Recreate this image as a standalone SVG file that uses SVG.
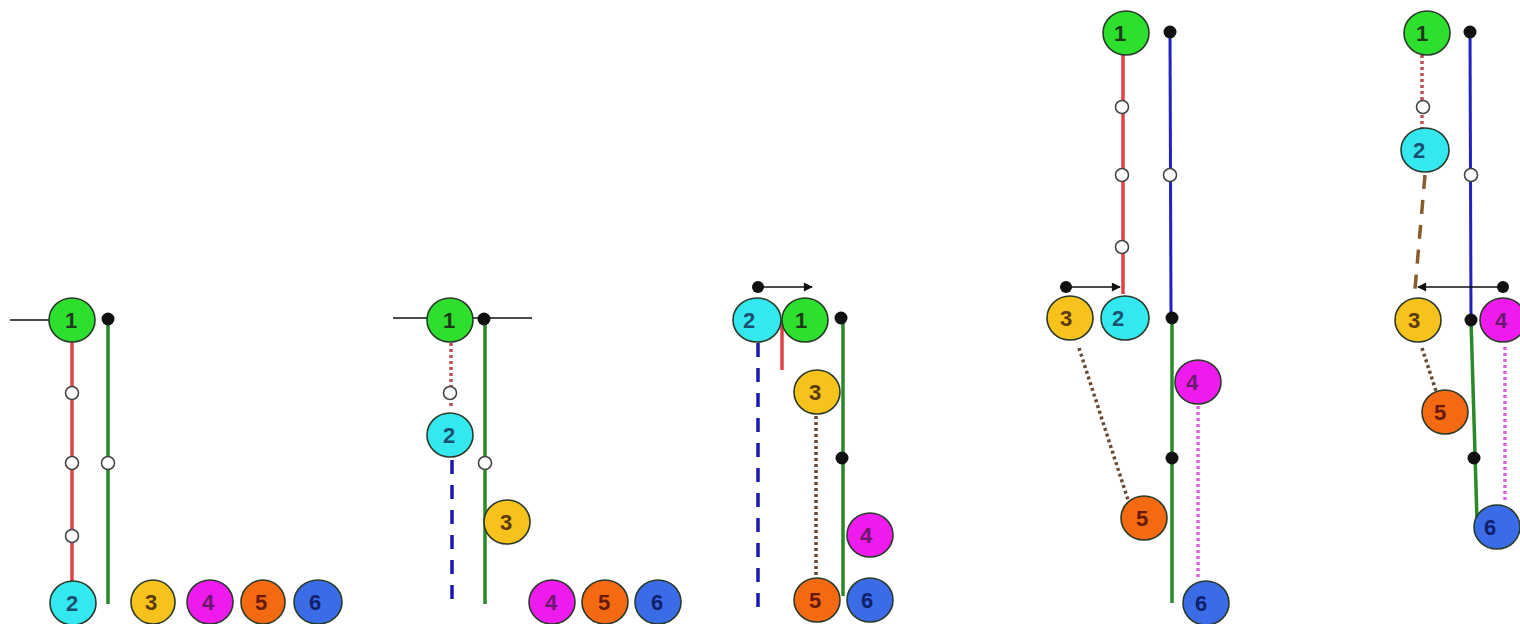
<svg xmlns="http://www.w3.org/2000/svg" width="1520" height="624" viewBox="0 0 1520 624">
<style>
.n ellipse{stroke:#2a3a2a;stroke-width:1.6}
.n text{font-family:"Liberation Sans",Arial,sans-serif;font-size:22px;font-weight:bold;text-anchor:middle;dominant-baseline:central}
.c1{fill:#2ee02e}.c2{fill:#33e8ee}.c3{fill:#f7c21c}.c4{fill:#ee1aee}.c5{fill:#f46a12}.c6{fill:#3a6ce8}
.t1{fill:#1d3a1d}.t2{fill:#1c5070}.t3{fill:#5a3a10}.t4{fill:#6a1a6a}.t5{fill:#6a1a0a}.t6{fill:#12206a}
.blk{stroke:#111;stroke-width:1.6;fill:none}
.red{stroke:#dd4444;stroke-width:3.5;fill:none}
.grn{stroke:#2a8a2a;stroke-width:3.5;fill:none}
.blu{stroke:#1f22c0;stroke-width:3;fill:none}
.bdash{stroke:#1a1ab0;stroke-width:3.5;fill:none;stroke-dasharray:14 11}
.rdot{stroke:#c05050;stroke-width:3.5;fill:none;stroke-dasharray:3 3}
.bdot{stroke:#6a4a30;stroke-width:3.5;fill:none;stroke-dasharray:3 3}
.pdot{stroke:#e060e0;stroke-width:3.5;fill:none;stroke-dasharray:3 3}
.brdash{stroke:#8a5a2a;stroke-width:3.5;fill:none;stroke-dasharray:14 11}
.open{fill:#fff;stroke:#444;stroke-width:1.6}
.dot{fill:#111}
</style>
<defs>
<marker id="ah" viewBox="0 0 10 10" refX="9" refY="5" markerWidth="10" markerHeight="9" markerUnits="userSpaceOnUse" orient="auto">
<path d="M0,0 L10,5 L0,10 z" fill="#111"/>
</marker>
</defs>

<g id="connectors">
<!-- panel 1 -->
<line class="blk" x1="10" y1="320" x2="49" y2="320"/>
<line class="red" x1="72" y1="342" x2="72" y2="582"/>
<line class="grn" x1="108" y1="319" x2="108" y2="604"/>
<circle class="dot" cx="108" cy="319" r="6.5"/>
<circle class="open" cx="72" cy="393" r="6.5"/>
<circle class="open" cx="72" cy="463" r="6.5"/>
<circle class="open" cx="72" cy="536" r="6.5"/>
<circle class="open" cx="108" cy="463" r="6.5"/>
<!-- panel 2 -->
<line class="blk" x1="393" y1="318" x2="427" y2="318"/>
<line class="blk" x1="473" y1="318" x2="532" y2="318"/>
<line class="grn" x1="485" y1="320" x2="485" y2="604"/>
<circle class="dot" cx="484" cy="319" r="6.5"/>
<line class="rdot" x1="451" y1="343" x2="451" y2="406"/>
<circle class="open" cx="450" cy="393" r="6.5"/>
<line class="bdash" x1="452" y1="460" x2="452" y2="606"/>
<circle class="open" cx="485" cy="463" r="6.5"/>
<!-- panel 3 -->
<line class="blk" x1="758" y1="287" x2="812" y2="287" marker-end="url(#ah)"/>
<circle class="dot" cx="758" cy="287" r="6"/>
<line class="red" x1="782" y1="322" x2="782" y2="370"/>
<line class="bdash" x1="758" y1="343" x2="758" y2="612"/>
<line class="grn" x1="843" y1="318" x2="843" y2="596"/>
<circle class="dot" cx="841" cy="318" r="6.5"/>
<circle class="dot" cx="842" cy="458" r="6.5"/>
<line class="bdot" x1="816" y1="416" x2="816" y2="576"/>
<!-- panel 4 -->
<line class="red" x1="1123" y1="55" x2="1123" y2="294"/>
<circle class="open" cx="1122" cy="107" r="6.5"/>
<circle class="open" cx="1122" cy="175" r="6.5"/>
<circle class="open" cx="1122" cy="247" r="6.5"/>
<line class="blu" x1="1170" y1="32" x2="1171" y2="316"/>
<circle class="dot" cx="1170" cy="32" r="6.5"/>
<circle class="open" cx="1170" cy="175" r="6.5"/>
<line class="blk" x1="1066" y1="287" x2="1120" y2="287" marker-end="url(#ah)"/>
<circle class="dot" cx="1066" cy="287" r="6"/>
<line class="grn" x1="1172" y1="318" x2="1172" y2="603"/>
<circle class="dot" cx="1172" cy="318" r="6.5"/>
<circle class="dot" cx="1172" cy="458" r="6.5"/>
<line class="bdot" x1="1079" y1="348" x2="1129" y2="503"/>
<line class="pdot" x1="1198" y1="406" x2="1198" y2="578"/>
<!-- panel 5 -->
<line class="rdot" x1="1422" y1="55" x2="1422" y2="128"/>
<circle class="open" cx="1423" cy="107" r="6.5"/>
<line class="brdash" x1="1425" y1="175" x2="1415" y2="289"/>
<line class="blu" x1="1470" y1="32" x2="1471" y2="318"/>
<circle class="dot" cx="1470" cy="32" r="6.5"/>
<circle class="open" cx="1471" cy="175" r="6.5"/>
<line class="blk" x1="1503" y1="287" x2="1418" y2="287" marker-end="url(#ah)"/>
<circle class="dot" cx="1503" cy="287" r="6"/>
<line class="grn" x1="1471" y1="320" x2="1477" y2="520"/>
<circle class="dot" cx="1471" cy="320" r="6.5"/>
<circle class="dot" cx="1474" cy="458" r="6.5"/>
<line class="bdot" x1="1422" y1="348" x2="1436" y2="391"/>
<line class="pdot" x1="1505" y1="347" x2="1505" y2="500"/>
</g>

<!-- panel 1 nodes -->
<g id="p1-n1" class="n"><ellipse class="c1" cx="72" cy="320" rx="23" ry="22"/><text class="t1" x="71" y="320">1</text></g>
<g id="p1-n2" class="n"><ellipse class="c2" cx="73" cy="603" rx="23" ry="22"/><text class="t2" x="72" y="603">2</text></g>
<g id="p1-n3" class="n"><ellipse class="c3" cx="153" cy="602" rx="22" ry="22"/><text class="t3" x="151" y="602">3</text></g>
<g id="p1-n4" class="n"><ellipse class="c4" cx="210" cy="602" rx="23" ry="22"/><text class="t4" x="208" y="602">4</text></g>
<g id="p1-n5" class="n"><ellipse class="c5" cx="263" cy="602" rx="22" ry="22"/><text class="t5" x="261" y="602">5</text></g>
<g id="p1-n6" class="n"><ellipse class="c6" cx="318" cy="602" rx="24" ry="22"/><text class="t6" x="315" y="602">6</text></g>

<!-- panel 2 nodes -->
<g id="p2-n1" class="n"><ellipse class="c1" cx="450" cy="320" rx="23" ry="22"/><text class="t1" x="449" y="320">1</text></g>
<g id="p2-n2" class="n"><ellipse class="c2" cx="450" cy="435" rx="23" ry="22"/><text class="t2" x="449" y="435">2</text></g>
<g id="p2-n3" class="n"><ellipse class="c3" cx="507" cy="522" rx="23" ry="22"/><text class="t3" x="506" y="522">3</text></g>
<g id="p2-n4" class="n"><ellipse class="c4" cx="552" cy="602" rx="23" ry="22"/><text class="t4" x="551" y="602">4</text></g>
<g id="p2-n5" class="n"><ellipse class="c5" cx="605" cy="602" rx="23" ry="22"/><text class="t5" x="604" y="602">5</text></g>
<g id="p2-n6" class="n"><ellipse class="c6" cx="658" cy="602" rx="23" ry="22"/><text class="t6" x="657" y="602">6</text></g>

<!-- panel 3 nodes -->
<g id="p3-n2" class="n"><ellipse class="c2" cx="757" cy="320" rx="24" ry="22"/><text class="t2" x="749" y="320">2</text></g>
<g id="p3-n1" class="n"><ellipse class="c1" cx="805" cy="320" rx="23" ry="22"/><text class="t1" x="801" y="320">1</text></g>
<g id="p3-n3" class="n"><ellipse class="c3" cx="817" cy="392" rx="23" ry="22"/><text class="t3" x="815" y="392">3</text></g>
<g id="p3-n4" class="n"><ellipse class="c4" cx="870" cy="535" rx="23" ry="22"/><text class="t4" x="866" y="535">4</text></g>
<g id="p3-n5" class="n"><ellipse class="c5" cx="817" cy="600" rx="23" ry="22"/><text class="t5" x="815" y="600">5</text></g>
<g id="p3-n6" class="n"><ellipse class="c6" cx="870" cy="600" rx="23" ry="22"/><text class="t6" x="867" y="600">6</text></g>

<!-- panel 4 nodes -->
<g id="p4-n1" class="n"><ellipse class="c1" cx="1126" cy="33" rx="23" ry="22"/><text class="t1" x="1120" y="33">1</text></g>
<g id="p4-n3" class="n"><ellipse class="c3" cx="1070" cy="318" rx="23" ry="22"/><text class="t3" x="1066" y="318">3</text></g>
<g id="p4-n2" class="n"><ellipse class="c2" cx="1125" cy="318" rx="24" ry="22"/><text class="t2" x="1118" y="318">2</text></g>
<g id="p4-n4" class="n"><ellipse class="c4" cx="1198" cy="382" rx="23" ry="22"/><text class="t4" x="1192" y="382">4</text></g>
<g id="p4-n5" class="n"><ellipse class="c5" cx="1144" cy="518" rx="23" ry="22"/><text class="t5" x="1142" y="518">5</text></g>
<g id="p4-n6" class="n"><ellipse class="c6" cx="1206" cy="603" rx="23" ry="22"/><text class="t6" x="1201" y="603">6</text></g>

<!-- panel 5 nodes -->
<g id="p5-n1" class="n"><ellipse class="c1" cx="1427" cy="33" rx="23" ry="22"/><text class="t1" x="1422" y="33">1</text></g>
<g id="p5-n2" class="n"><ellipse class="c2" cx="1425" cy="150" rx="24" ry="22"/><text class="t2" x="1419" y="150">2</text></g>
<g id="p5-n3" class="n"><ellipse class="c3" cx="1418" cy="320" rx="23" ry="22"/><text class="t3" x="1414" y="320">3</text></g>
<g id="p5-n4" class="n"><ellipse class="c4" cx="1503" cy="320" rx="23" ry="22"/><text class="t4" x="1501" y="320">4</text></g>
<g id="p5-n5" class="n"><ellipse class="c5" cx="1445" cy="412" rx="23" ry="22"/><text class="t5" x="1440" y="412">5</text></g>
<g id="p5-n6" class="n"><ellipse class="c6" cx="1497" cy="527" rx="23" ry="22"/><text class="t6" x="1490" y="527">6</text></g>
</svg>
